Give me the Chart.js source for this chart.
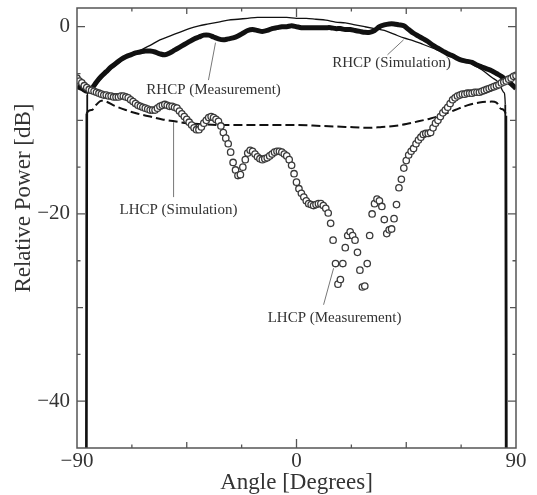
<!DOCTYPE html>
<html>
<head>
<meta charset="utf-8">
<script src="https://cdn.jsdelivr.net/npm/chart.js@4.4.1/dist/chart.umd.min.js"></script>
<style>
  html, body { margin: 0; padding: 0; background: #fff; }
  #wrap { width: 537px; height: 495px; position: relative; }
</style>
</head>
<body>
<div id="wrap"><canvas id="plot"></canvas></div>
<script>
// ---- data ----

// LHCP measurement, 1 degree steps
const lhcpMeasAngle = [
  -90,-89,-88,-87,-86,-85,-84,-83,-82,-81,-80,-79,-78,-77,-76,-75,-74,-73,-72,-71,
  -70,-69,-68,-67,-66,-65,-64,-63,-62,-61,-60,-59,-58,-57,-56,-55,-54,-53,-52,-51,
  -50,-49,-48,-47,-46,-45,-44,-43,-42,-41,-40,-39,-38,-37,-36,-35,-34,-33,-32,-31,
  -30,-29,-28,-27,-26,-25,-24,-23,-22,-21,-20,-19,-18,-17,-16,-15,-14,-13,-12,-11,
  -10,-9,-8,-7,-6,-5,-4,-3,-2,-1,0,1,2,3,4,5,6,7,8,9,
  10,11,12,13,14,15,16,17,18,19,20,21,22,23,24,25,26,27,28,29,
  30,31,32,33,34,35,36,37,38,39,40,41,42,43,44,45,46,47,48,49,
  50,51,52,53,54,55,56,57,58,59,60,61,62,63,64,65,66,67,68,69,
  70,71,72,73,74,75,76,77,78,79,80,81,82,83,84,85,86,87,88,89,90
];
const lhcpMeasValue = [
  -5.5,-5.8,-6.0,-6.3,-6.5,-6.7,-6.8,-6.9,-7.0,-7.1,-7.2,-7.3,-7.3,-7.4,-7.4,-7.5,-7.5,-7.5,-7.4,-7.4,
  -7.5,-7.6,-7.8,-8.0,-8.2,-8.4,-8.5,-8.6,-8.7,-8.8,-8.9,-8.9,-8.9,-8.7,-8.5,-8.4,-8.3,-8.4,-8.5,-8.5,
  -8.6,-8.7,-9.0,-9.3,-9.6,-9.9,-10.2,-10.5,-10.8,-11.0,-11.0,-10.7,-10.3,-10.0,-9.7,-9.6,-9.7,-9.9,-10.1,-10.6,
  -11.3,-11.9,-12.5,-13.4,-14.5,-15.3,-15.9,-15.8,-15.0,-14.2,-13.5,-13.2,-13.3,-13.6,-13.9,-14.1,-14.2,-14.1,-14.0,-13.8,
  -13.6,-13.4,-13.3,-13.3,-13.4,-13.6,-13.8,-14.2,-14.8,-15.7,-16.6,-17.3,-17.8,-18.2,-18.6,-18.9,-19.0,-19.1,-19.0,-18.9,
  -18.9,-19.1,-19.4,-19.9,-21.0,-22.8,-25.3,-27.5,-27.0,-25.3,-23.6,-22.3,-21.9,-22.3,-22.8,-24.1,-26.0,-27.8,-27.7,-25.3,
  -22.3,-20.0,-18.9,-18.4,-18.6,-19.2,-20.6,-22.1,-21.7,-21.6,-20.5,-19.0,-17.2,-16.3,-15.1,-14.3,-13.7,-13.3,-13.0,-12.5,
  -12.1,-11.8,-11.5,-11.4,-11.4,-11.3,-10.8,-10.3,-10.0,-9.6,-9.2,-8.9,-8.6,-8.2,-7.8,-7.6,-7.4,-7.3,-7.2,-7.2,
  -7.1,-7.1,-7.1,-7.0,-7.0,-7.0,-6.9,-6.8,-6.7,-6.6,-6.5,-6.4,-6.3,-6.2,-6.0,-5.9,-5.8,-5.6,-5.5,-5.3,-5.2
];

// RHCP measurement, 2 degree steps
const rhcpMeasAngle = [
  -90,-88,-86,-84,-82,-80,-78,-76,-74,-72,-70,-68,-66,-64,-62,-60,-58,-56,-54,-52,
  -50,-48,-46,-44,-42,-40,-38,-36,-34,-32,-30,-28,-26,-24,-22,-20,-18,-16,-14,-12,
  -10,-8,-6,-4,-2,0,2,4,6,8,10,12,14,16,18,20,22,24,26,28,
  30,32,34,36,38,40,42,44,46,48,50,52,54,56,58,60,62,64,66,68,
  70,72,74,76,78,80,82,84,86,88,90
];
const rhcpMeasValue = [
  -6.4,-6.6,-6.9,-6.6,-5.9,-5.3,-4.8,-4.3,-3.9,-3.5,-3.2,-3.0,-2.8,-2.7,-2.6,-2.6,-2.7,-2.9,-3.0,-2.8,
  -2.5,-2.2,-1.9,-1.6,-1.3,-1.1,-0.9,-0.9,-1.1,-1.3,-1.4,-1.3,-1.2,-1.0,-0.7,-0.4,-0.3,-0.4,-0.5,-0.4,
  -0.2,-0.1,0.0,0.0,0.1,0.0,-0.1,-0.1,-0.1,-0.1,-0.1,-0.1,-0.1,-0.2,-0.2,-0.3,-0.3,-0.4,-0.5,-0.6,
  -0.6,-0.4,0.0,0.2,0.3,0.3,0.2,0.1,-0.3,-0.7,-1.0,-1.3,-1.6,-2.0,-2.3,-2.6,-2.9,-3.1,-3.4,-3.6,
  -3.7,-3.8,-4.1,-4.3,-4.5,-4.7,-5.0,-5.3,-5.7,-6.1,-6.6
];

// RHCP simulation (drops off the bottom near +/-86 degrees)
const rhcpSimAngle = [
  -86.0,-85.8,-84,-80,-76,-72,-68,-64,-60,-56,-52,-48,-44,-40,-36,-32,-28,-24,-20,-16,
  -12,-8,-4,0,4,8,12,16,20,24,28,32,36,40,44,48,52,56,60,64,
  68,72,76,80,83,85,85.6,85.8
];
const rhcpSimValue = [
  -50,-7.3,-6.6,-5.5,-4.5,-3.7,-3.0,-2.5,-2.0,-1.4,-1.0,-0.6,-0.2,0.1,0.3,0.5,0.7,0.8,0.9,1.0,
  1.0,1.0,1.0,0.9,0.9,0.8,0.7,0.5,0.4,0.2,0.0,-0.2,-0.4,-0.8,-1.2,-1.5,-1.9,-2.3,-2.7,-3.0,
  -3.5,-4.0,-4.6,-5.4,-6.0,-7.0,-8.3,-50
];

// LHCP simulation
const lhcpSimAngle = [
  -86.3,-86.1,-84,-82,-80,-78,-75,-70,-65,-60,-55,-50,-45,-40,-30,-20,-10,0,10,20,
  30,35,40,45,50,55,60,65,70,75,80,82,84,86.0,86.2
];
const lhcpSimValue = [
  -50,-9.3,-8.9,-8.3,-7.9,-8.0,-8.4,-8.9,-9.3,-9.6,-9.9,-10.1,-10.3,-10.4,-10.5,-10.5,-10.5,-10.5,-10.6,-10.7,
  -10.8,-10.7,-10.6,-10.4,-10.1,-9.8,-9.4,-8.9,-8.4,-8.1,-8.0,-8.1,-8.8,-9.5,-50
];

// callout labels: text, text centre (angle, dB), leader from / to (angle, dB)
const calloutText   = ["RHCP (Measurement)", "RHCP (Simulation)", "LHCP (Simulation)", "LHCP (Measurement)"];
const calloutAt     = [[-34, -6.8], [39, -3.9], [-48.4, -19.6], [15.6, -31.1]];
const calloutFrom   = [[-36.1, -5.7], [37.3, -3.0], [-50.4, -18.2], [11.1, -29.7]];
const calloutTo     = [[-33.2, -1.7], [43.9, -1.4], [-50.4, -10.2], [15.2, -25.8]];

const xLabelAt = [-90, 0, 90];
const yLabelAt = [0, -20, -40];

// ---- drawing ----
const SERIF = "'Liberation Serif', 'DejaVu Serif', serif";
const INK = "#111";
const TEXT = "#333";

const pts = (xs, ys) => xs.map((x, i) => ({ x: x, y: ys[i] }));
const dropSeg = ctx => ctx.p0.parsed.y < -30 || ctx.p1.parsed.y < -30;
const minus = v => (v < 0 ? "\u2212" + Math.abs(v) : String(v));

// inward ticks on all four sides + frame + y title + callouts
const decorations = {
  id: "decorations",
  afterDatasetsDraw(chart) {
    const { ctx, chartArea: a, scales: { x, y } } = chart;
    ctx.save();

    // callouts
    ctx.strokeStyle = "#777";
    ctx.lineWidth = 1;
    ctx.font = "15px " + SERIF;
    ctx.fillStyle = TEXT;
    ctx.textAlign = "center";
    ctx.textBaseline = "middle";
    calloutText.forEach((t, i) => {
      ctx.beginPath();
      ctx.moveTo(x.getPixelForValue(calloutFrom[i][0]), y.getPixelForValue(calloutFrom[i][1]));
      ctx.lineTo(x.getPixelForValue(calloutTo[i][0]), y.getPixelForValue(calloutTo[i][1]));
      ctx.stroke();
      ctx.fillText(t, x.getPixelForValue(calloutAt[i][0]), y.getPixelForValue(calloutAt[i][1]));
    });

    // frame
    ctx.strokeStyle = "#555";
    ctx.lineWidth = 1.5;
    ctx.strokeRect(a.left, a.top, a.right - a.left, a.bottom - a.top);

    // ticks pointing inside
    ctx.lineWidth = 1.3;
    ctx.beginPath();
    x.ticks.forEach(t => {
      const v = t.value;
      if (v <= -90 || v >= 90) return;
      const len = v === 0 ? 9 : (Math.abs(v) % 45 === 0 ? 6 : 3.5);
      const px = x.getPixelForValue(v);
      ctx.moveTo(px, a.bottom); ctx.lineTo(px, a.bottom - len);
      ctx.moveTo(px, a.top); ctx.lineTo(px, a.top + len);
    });
    y.ticks.forEach(t => {
      const v = t.value;
      if (v % 5 !== 0 || v <= -45) return;
      const len = v % 20 === 0 ? 8 : (v % 10 === 0 ? 6 : 3.5);
      const py = y.getPixelForValue(v);
      ctx.moveTo(a.left, py); ctx.lineTo(a.left + len, py);
      ctx.moveTo(a.right, py); ctx.lineTo(a.right - len, py);
    });
    ctx.stroke();

    // y axis title
    ctx.translate(24, a.top + (a.bottom - a.top) * 0.432);
    ctx.rotate(-Math.PI / 2);
    ctx.font = "23px " + SERIF;
    ctx.fillStyle = TEXT;
    ctx.fillText("Relative Power [dB]", 0, 0);
    ctx.restore();
  }
};

new Chart(document.getElementById("plot"), {
  type: "line",
  data: {
    datasets: [
      {
        label: "LHCP (Measurement)",
        data: pts(lhcpMeasAngle, lhcpMeasValue),
        showLine: false,
        pointStyle: "circle",
        pointRadius: 3.2,
        pointBorderWidth: 1.3,
        pointBorderColor: "#3a3a3a",
        pointBackgroundColor: "#fff",
        order: 0
      },
      {
        label: "RHCP (Measurement)",
        data: pts(rhcpMeasAngle, rhcpMeasValue),
        borderColor: INK,
        borderWidth: 5,
        pointRadius: 0,
        tension: 0.3,
        order: 1
      },
      {
        label: "RHCP (Simulation)",
        data: pts(rhcpSimAngle, rhcpSimValue),
        borderColor: INK,
        borderWidth: 1.3,
        pointRadius: 0,
        cubicInterpolationMode: "monotone",
        segment: { borderWidth: c => (dropSeg(c) ? 1.8 : 1.3) },
        order: 2
      },
      {
        label: "LHCP (Simulation)",
        data: pts(lhcpSimAngle, lhcpSimValue),
        borderColor: INK,
        borderWidth: 2,
        borderDash: [9, 4],
        pointRadius: 0,
        cubicInterpolationMode: "monotone",
        segment: { borderDash: c => (dropSeg(c) ? [] : [9, 4]) },
        order: 3
      }
    ]
  },
  options: {
    responsive: true,
    maintainAspectRatio: false,
    animation: false,
    layout: { padding: { top: 8, right: 21, left: 0, bottom: 0 } },
    plugins: { legend: { display: false }, tooltip: { enabled: false } },
    scales: {
      x: {
        type: "linear",
        min: -90, max: 90,
        afterFit: s => { s.height = 47; s.paddingLeft = 0; s.paddingRight = 0; },
        grid: { display: false, drawTicks: false },
        border: { display: false },
        ticks: {
          stepSize: 22.5,
          autoSkip: false,
          maxRotation: 0,
          padding: 1,
          color: TEXT,
          font: { family: SERIF, size: 21 },
          callback: v => (xLabelAt.includes(v) ? minus(v) : "")
        },
        title: {
          display: true,
          text: "Angle [Degrees]",
          color: TEXT,
          font: { family: SERIF, size: 23, lineHeight: 1 },
          padding: { top: 0, bottom: 1 }
        }
      },
      y: {
        min: -45, max: 2,
        afterFit: s => { s.width = 77; s.paddingTop = 0; s.paddingBottom = 0; },
        grid: { display: false, drawTicks: false },
        border: { display: false },
        ticks: {
          stepSize: 5,
          autoSkip: false,
          padding: 7,
          color: TEXT,
          font: { family: SERIF, size: 21 },
          callback: v => (yLabelAt.includes(v) ? minus(v) : "")
        }
      }
    }
  },
  plugins: [decorations]
});
</script>
</body>
</html>
